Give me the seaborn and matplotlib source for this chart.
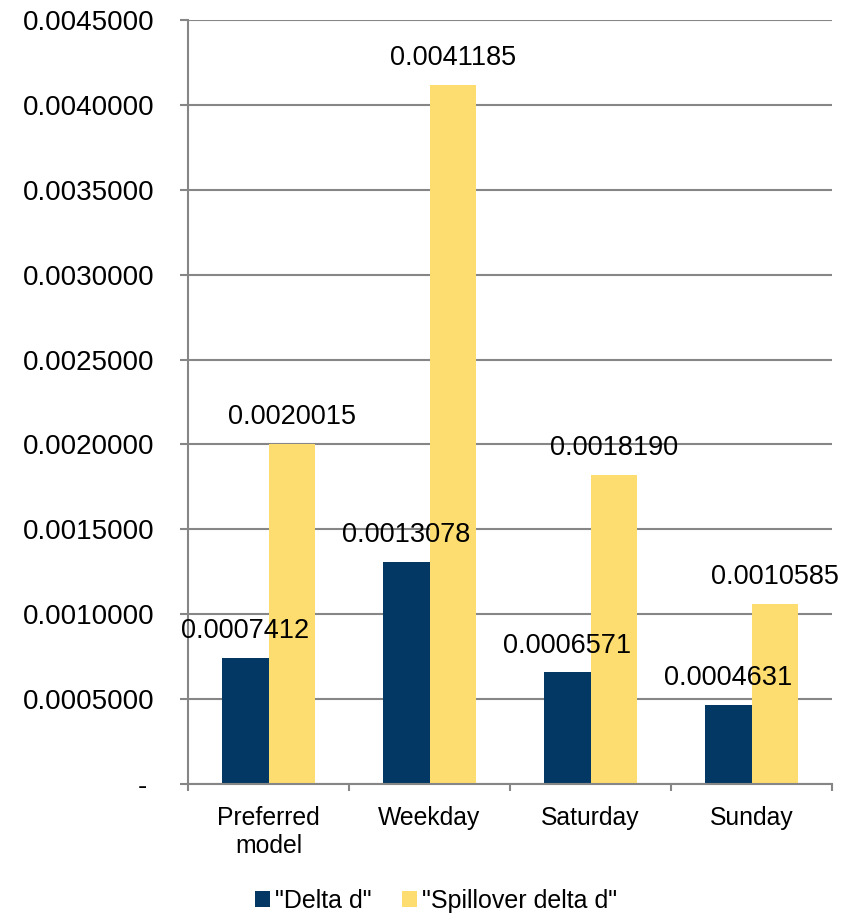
import matplotlib
matplotlib.use("Agg")
import matplotlib.pyplot as plt
import seaborn as sns
import pandas as pd
import numpy as np
from matplotlib.patches import Patch
from matplotlib.ticker import FixedLocator, FuncFormatter

categories = ["Preferred\nmodel", "Weekday", "Saturday", "Sunday"]
series_names = ['"Delta d"', '"Spillover delta d"']
delta_d = [0.0007412, 0.0013078, 0.0006571, 0.0004631]
spillover_delta_d = [0.0020015, 0.0041185, 0.0018190, 0.0010585]
y_ticks = [0.0, 0.0005, 0.0010, 0.0015, 0.0020, 0.0025, 0.0030, 0.0035, 0.0040, 0.0045]

colors = ["#033864", "#FDDD6F"]

df = pd.DataFrame({
    "category": categories * 2,
    "series": [series_names[0]] * 4 + [series_names[1]] * 4,
    "value": delta_d + spillover_delta_d,
})

sns.set_theme(style="white")
plt.rcParams["font.family"] = ["Liberation Sans", "DejaVu Sans"]
plt.rcParams["text.color"] = "black"

fig = plt.figure(figsize=(8.61, 9.15), dpi=100)
ax = fig.add_axes([188 / 861, 1 - 784 / 915, (832 - 188) / 861, (784 - 20) / 915])

sns.barplot(data=df, x="category", y="value", hue="series", order=categories,
            hue_order=series_names, palette=colors, width=0.58, saturation=1,
            dodge=True, ax=ax, legend=False, linewidth=0)

ax.set_xlim(-0.5, 3.5)
ax.set_ylim(0, 0.0045)
ax.set_xlabel("")
ax.set_ylabel("")

grid_color = "#868686"
ax.yaxis.set_major_locator(FixedLocator(y_ticks))
ax.yaxis.set_major_formatter(FuncFormatter(lambda v, p: "- " if abs(v) < 1e-12 else f"{v:.7f}"))
ax.yaxis.grid(True, color=grid_color, linewidth=1.5)
ax.set_axisbelow(True)
ax.tick_params(axis="y", which="major", length=6, width=1.5, color=grid_color,
               labelsize=20, pad=18, left=True, labelcolor="black")

ax.xaxis.set_minor_locator(FixedLocator([-0.5, 0.5, 1.5, 2.5, 3.5]))
ax.tick_params(axis="x", which="major", length=0, labelsize=17.8, pad=16, labelcolor="black")
ax.tick_params(axis="x", which="minor", length=5, width=1.5, color=grid_color, bottom=True)

for side in ["top", "right"]:
    ax.spines[side].set_visible(False)
for side in ["left", "bottom"]:
    ax.spines[side].set_color(grid_color)
    ax.spines[side].set_linewidth(1.5)

for container in ax.containers:
    ax.bar_label(container, labels=[f"{v:.7f}" for v in container.datavalues],
                 padding=10, fontsize=19.5, color="black", clip_on=False)

handles = [Patch(facecolor=c, edgecolor="none") for c in colors]
leg = fig.legend(handles, series_names, loc="center", bbox_to_anchor=(436 / 861, 1 - 901 / 915),
                 ncol=2, frameon=False, fontsize=18, handlelength=0.6, handleheight=0.6,
                 handletextpad=0.2, columnspacing=1.2)
for t in leg.get_texts():
    t.set_color("black")

fig.savefig("out.png", dpi=100)
